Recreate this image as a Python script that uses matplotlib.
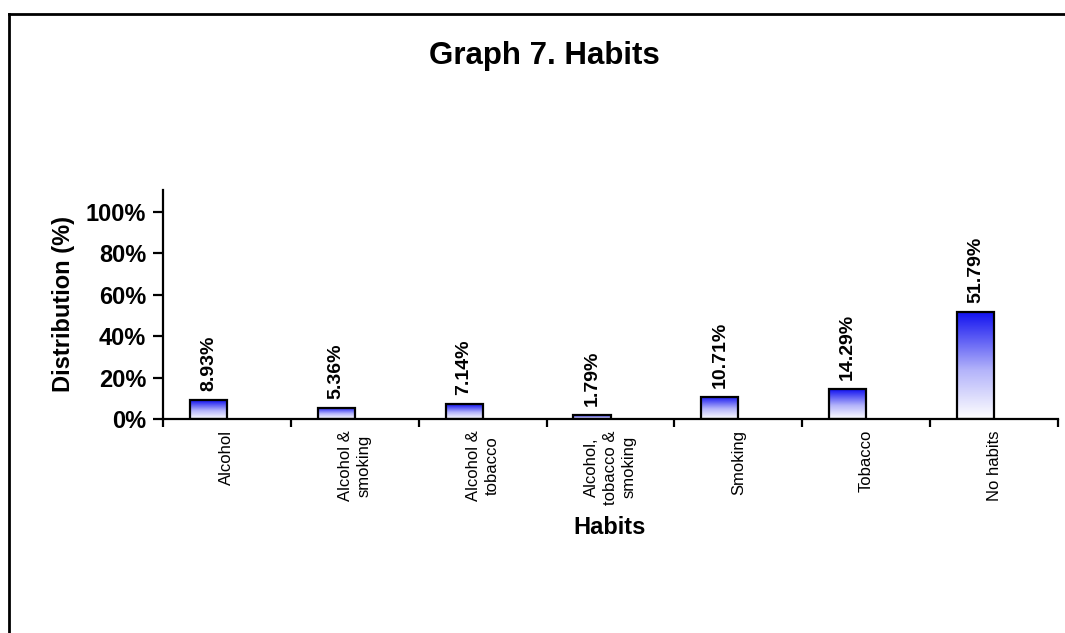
"""Graph 7 : répartition des habitudes (alcool, tabac, etc.)."""

import matplotlib.pyplot as plt
import numpy as np
from matplotlib.colors import LinearSegmentedColormap
from matplotlib.lines import Line2D
from matplotlib.ticker import FuncFormatter

plt.rcParams["font.family"] = ["Liberation Sans", "DejaVu Sans"]

CATEGORIES = [
    "Alcohol",
    "Alcohol &\nsmoking",
    "Alcohol &\ntobacco",
    "Alcohol,\ntobacco &\nsmoking",
    "Smoking",
    "Tobacco",
    "No habits",
]
VALUES = [8.93, 5.36, 7.14, 1.79, 10.71, 14.29, 51.79]
Y_TICKS = [0, 20, 40, 60, 80, 100]

W, H = 1065, 633
fig = plt.figure(figsize=(W / 100, H / 100), dpi=100)

# Cadre extérieur : seulement les bords gauche et haut
fig.add_artist(Line2D([8.5 / W, 8.5 / W], [0, 1 - 14 / H], color="black", lw=2))
fig.add_artist(Line2D([8.5 / W, 1], [1 - 14 / H, 1 - 14 / H], color="black", lw=2))

ax = fig.add_axes([163 / W, 1 - 419 / H, (1058 - 163) / W, (419 - 190) / H])

cmap = LinearSegmentedColormap.from_list(
    "grad", [(0, "#ffffff"), (0.45, "#b4b4fa"), (1, "#1010f0")])
gradient = np.linspace(0, 1, 256).reshape(-1, 1)

bar_width = 0.29
x = np.arange(len(CATEGORIES))
bars = ax.bar(x - bar_width / 2, VALUES, width=bar_width, facecolor="none",
              edgecolor="black", linewidth=1.6, zorder=3)

for bar, val in zip(bars, VALUES):
    x0, y0 = bar.get_x(), bar.get_y()
    img = ax.imshow(gradient, cmap=cmap, origin="lower", aspect="auto",
                    extent=[x0, x0 + bar.get_width(), y0, y0 + bar.get_height()],
                    zorder=2)
    img.set_clip_path(bar)
    ax.annotate(f"{val:.2f}%", (x0 + bar.get_width() / 2, val),
                xytext=(0, 6.5), textcoords="offset points", rotation=90,
                ha="center", va="bottom", fontsize=14, fontweight="bold")

ax.set_xlim(-0.5, len(CATEGORIES) - 0.5)
ax.set_ylim(0, 110.5)

ax.set_xticks(np.arange(len(CATEGORIES) + 1) - 0.5)
ax.set_xticklabels([])
ax.set_xticks(x, minor=True)
ax.set_xticklabels(CATEGORIES, minor=True, rotation=90, fontsize=12,
                   va="top", ha="center", multialignment="center",
                   linespacing=1.3)
ax.tick_params(axis="x", which="major", direction="out", length=6, width=1.6)
ax.tick_params(axis="x", which="minor", length=0, pad=8)

ax.set_yticks(Y_TICKS)
ax.yaxis.set_major_formatter(FuncFormatter(lambda v, _: f"{v:.0f}%"))
ax.tick_params(axis="y", direction="out", length=7, width=1.6, pad=5,
               labelsize=17)
for lab in ax.get_yticklabels():
    lab.set_fontweight("bold")

for side in ["top", "right"]:
    ax.spines[side].set_visible(False)
for side in ["left", "bottom"]:
    ax.spines[side].set_linewidth(1.6)

ax.set_ylabel("Distribution (%)", fontsize=17, fontweight="bold", labelpad=8)
fig.text(610 / W, 1 - 527 / H, "Habits", ha="center", va="center",
         fontsize=17, fontweight="bold")
fig.text(544 / W, 1 - 56 / H, "Graph 7. Habits", ha="center", va="center",
         fontsize=22.5, fontweight="bold")

fig.savefig("out.png", dpi=100)
